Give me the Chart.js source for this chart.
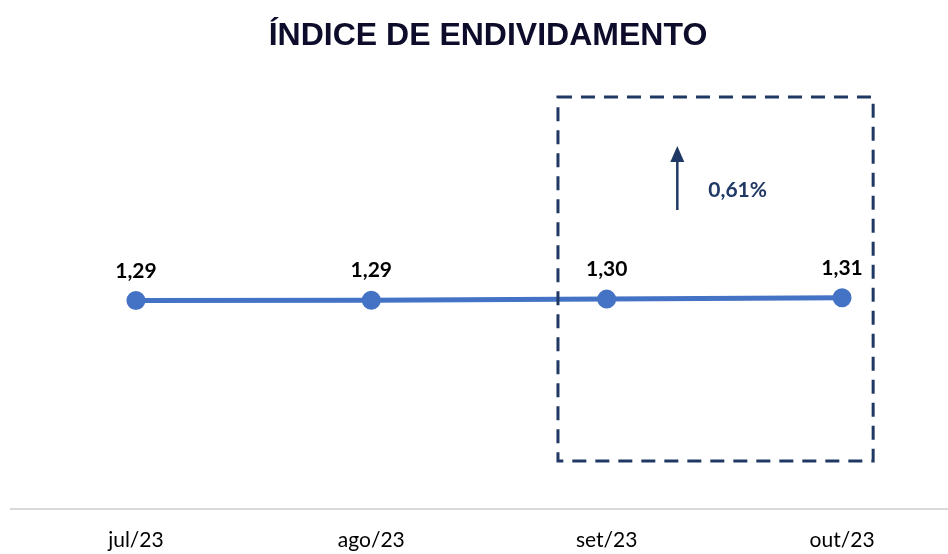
<!DOCTYPE html>
<html>
<head>
<meta charset="utf-8">
<script src="https://cdn.jsdelivr.net/npm/chart.js@4.4.0/dist/chart.umd.min.js"></script>
<style>
  html, body { margin: 0; padding: 0; background: #fff; overflow: hidden; }
  #wrap { width: 948px; height: 554px; }
</style>
</head>
<body>
<div id="wrap"><canvas id="chart1"></canvas></div>
<script>
// valores
let months = ['jul/23', 'ago/23', 'set/23', 'out/23']
let indice = [1.293, 1.295, 1.302, 1.310]
let valueLabels = ['1,29', '1,29', '1,30', '1,31']
let variacao = '0,61%'
let titleText = 'ÍNDICE DE ENDIVIDAMENTO'

let lineColor = '#4472c4'
let navy = '#203864'

let points = indice.map((v, i) => ({ x: i, y: v }))

// titulo, rotulos e caixa tracejada
let extras = {
    id: 'extras',
    afterDraw(chart) {
        let c = chart.ctx
        let xs = chart.scales.x
        let ys = chart.scales.y
        let area = chart.chartArea
        c.save()

        c.fillStyle = '#0d0d2b'
        c.font = 'bold 32px "Liberation Sans", Arial, sans-serif'
        c.textAlign = 'center'
        c.textBaseline = 'middle'
        c.fillText(titleText, 488, 36)

        // eixo x
        c.strokeStyle = '#d9d9d9'
        c.lineWidth = 2
        c.beginPath()
        c.moveTo(area.left, area.bottom)
        c.lineTo(area.right, area.bottom)
        c.stroke()

        // rotulos dos valores
        c.fillStyle = '#000'
        c.font = 'bold 21px Lato, "Open Sans", sans-serif'
        c.textBaseline = 'alphabetic'
        points.forEach((p, i) => {
            c.fillText(valueLabels[i], xs.getPixelForValue(p.x), ys.getPixelForValue(p.y) - 23)
        })

        // caixa tracejada em volta de set e out
        let bx1 = xs.getPixelForValue(1.793)
        let bx2 = xs.getPixelForValue(3.132)
        c.strokeStyle = navy
        c.lineWidth = 3
        c.setLineDash([14, 9])
        c.strokeRect(bx1, 97, bx2 - bx1, 364)
        c.setLineDash([])

        // seta
        let ax = xs.getPixelForValue(2.3)
        c.lineWidth = 2.5
        c.beginPath()
        c.moveTo(ax, 210)
        c.lineTo(ax, 160)
        c.stroke()
        c.fillStyle = navy
        c.beginPath()
        c.moveTo(ax, 146)
        c.lineTo(ax - 7, 162)
        c.lineTo(ax + 7, 162)
        c.closePath()
        c.fill()

        c.font = 'bold 21px Lato, "Open Sans", sans-serif'
        c.textAlign = 'left'
        c.fillText(variacao, ax + 31, 197)
        c.restore()
    }
}

let ctx1 = document.getElementById('chart1').getContext('2d')
let chart = new Chart(ctx1, {
    type: 'line',
    data: {
        datasets: [{
            label: 'Índice de endividamento',
            data: points,
            borderColor: lineColor,
            backgroundColor: lineColor,
            borderWidth: 5,
            pointRadius: 7,
            pointHoverRadius: 7,
            tension: 0,
            clip: false
        }]
    },
    options: {
        responsive: true,
        maintainAspectRatio: false,
        animation: false,
        layout: { autoPadding: false, padding: { top: 106, left: 10, right: 0, bottom: 0 } },
        plugins: {
            legend: { display: false },
            tooltip: { enabled: false }
        },
        scales: {
            x: {
                type: 'linear',
                min: -0.535,
                max: 3.45,
                grid: { display: false, drawTicks: false },
                border: { display: false },
                afterBuildTicks: (axis) => {
                    axis.ticks = months.map((m, i) => ({ value: i }))
                },
                afterFit: (axis) => { axis.height = 45 },
                ticks: {
                    padding: 19,
                    color: '#000',
                    font: { family: 'Lato, "Open Sans", sans-serif', size: 21 },
                    callback: (v) => months[v]
                }
            },
            y: {
                display: false,
                min: 0,
                max: 2.5
            }
        }
    },
    plugins: [extras]
})
</script>
</body>
</html>
